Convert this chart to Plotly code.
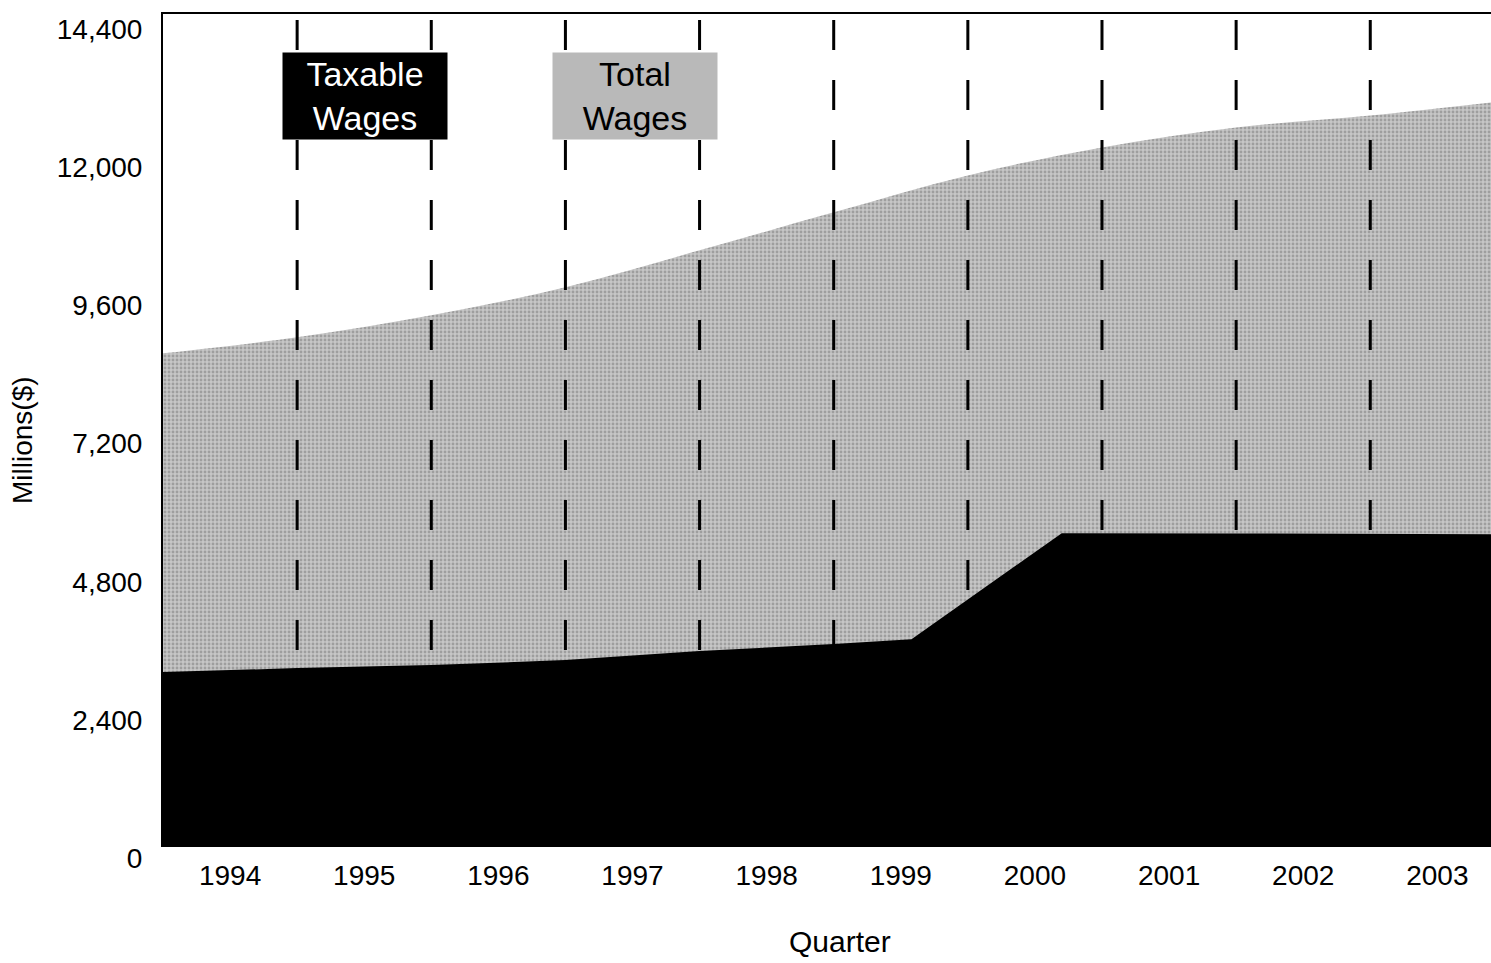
import plotly.graph_objects as go

# quarters are plotted as fractional years, values in millions of dollars
total_x = [1993.5, 1994.5, 1995.5, 1996.5, 1997.5, 1998.5, 1999.5, 2000.5, 2001.5, 2002.5, 2003.4]
total_wages = [8544, 8822, 9204, 9690, 10333, 10993, 11635, 12122, 12469, 12677, 12903]

taxable_x = [1993.5, 1994.5, 1995.5, 1996.5, 1997.5, 1998.5, 1999.08, 2000.2, 2001.5, 2002.5, 2003.4]
taxable_wages = [3004, 3074, 3126, 3213, 3369, 3491, 3577, 5418, 5415, 5410, 5401]

years = list(range(1994, 2004))
y_ticks = [0, 2400, 4800, 7200, 9600, 12000, 14400]

FONT = "Liberation Sans, Arial, Helvetica, sans-serif"

fig = go.Figure()
fig.add_trace(go.Scatter(
    x=total_x, y=total_wages, mode="lines", line=dict(width=0, shape="spline"),
    fill="tozeroy", fillcolor="#b8b8b8",
    fillpattern=dict(shape=".", bgcolor="#c6c6c6", fgcolor="#767676", size=4, solidity=0.4),
    hoverinfo="skip", showlegend=False,
))
fig.add_trace(go.Scatter(
    x=taxable_x, y=taxable_wages, mode="lines", line=dict(width=0),
    fill="tozeroy", fillcolor="#000000",
    hoverinfo="skip", showlegend=False,
))

# dashed separators between years
for yr in years[:-1]:
    fig.add_shape(type="line", xref="x", yref="paper", x0=yr + 0.5, x1=yr + 0.5,
                  y0=0.9928, y1=0, line=dict(color="black", width=3, dash="30px,30px"))

fig.add_annotation(x=1995.006, y=13015, text="Taxable<br>Wages", showarrow=False,
                   font=dict(family=FONT, size=34, color="white"), bgcolor="black",
                   width=164, height=86, borderpad=0)
fig.add_annotation(x=1997.019, y=13015, text="Total<br>Wages", showarrow=False,
                   font=dict(family=FONT, size=34, color="black"), bgcolor="#b9b9b9",
                   width=164, height=86, borderpad=0)

# axis titles
fig.add_annotation(xref="paper", yref="paper", x=0.51, y=-0.1167, text="Quarter",
                   xanchor="center", yanchor="middle",
                   showarrow=False, font=dict(family=FONT, size=30, color="black"))
fig.add_annotation(xref="paper", yref="paper", x=-0.1054, y=0.4874, text="Millions($)",
                   xanchor="center", yanchor="middle",
                   textangle=-90, showarrow=False, font=dict(family=FONT, size=28, color="black"))

fig.update_layout(
    width=1491, height=963,
    margin=dict(l=163, r=0, t=14, b=118),
    paper_bgcolor="white", plot_bgcolor="white",
    font=dict(family=FONT, size=28, color="black"),
    showlegend=False,
)
fig.update_xaxes(
    range=[1993.5, 2003.4], tickvals=years, ticks="", showgrid=False, zeroline=False,
    showline=True, mirror=True, linecolor="black", linewidth=2,
    ticklabelstandoff=4,
)
fig.update_yaxes(
    range=[0, 14440], tickvals=y_ticks, tickformat=",d", ticks="", showgrid=False,
    zeroline=False, showline=True, linecolor="black", linewidth=2,
    ticklabelstandoff=13, ticklabelshift=13,
)

fig.write_html("out.html", config={"displayModeBar": False},
               post_script="document.body.style.margin='0';")
